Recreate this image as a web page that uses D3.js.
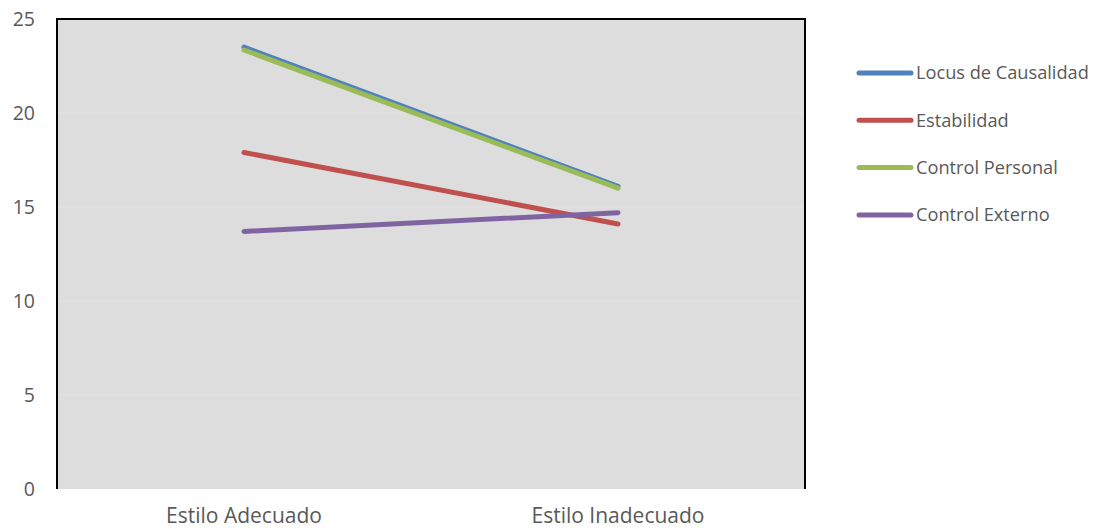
<!DOCTYPE html>
<html>
<head>
<meta charset="utf-8">
<script src="https://cdn.jsdelivr.net/npm/d3@7"></script>
<style>
  html, body { margin: 0; padding: 0; background: #ffffff; }
  svg text { font-family: "Open Sans", "Noto Sans", sans-serif; fill: #595959; }
</style>
</head>
<body>
<svg id="chart" width="1094" height="529"></svg>
<script>
// Categories on the horizontal axis
const categories = ["Estilo Adecuado", "Estilo Inadecuado"];

// Series names and their values per category
const seriesNames = ["Locus de Causalidad", "Estabilidad", "Control Personal", "Control Externo"];
const locusValues = [23.5, 16.1];
const estabilidadValues = [17.9, 14.1];
const controlPersonalValues = [23.35, 16.0];
const controlExternoValues = [13.7, 14.7];

// Y axis ticks
const yTicks = [0, 5, 10, 15, 20, 25];

const seriesColors = ["#4f81bd", "#c0504d", "#9bbb59", "#8064a2"];
const seriesValues = [locusValues, estabilidadValues, controlPersonalValues, controlExternoValues];

const margin = { left: 57, top: 19, right: 805, bottom: 489 };
const svg = d3.select("#chart");

const x = d3.scaleBand().domain(categories).range([margin.left, margin.right]).paddingInner(0).paddingOuter(0);
const y = d3.scaleLinear().domain([0, 25]).range([margin.bottom, margin.top]);

// Plot background
svg.append("rect")
  .attr("x", margin.left).attr("y", margin.top)
  .attr("width", margin.right - margin.left).attr("height", margin.bottom - margin.top)
  .attr("fill", "#dddddd");

// Horizontal gridlines
svg.append("g").selectAll("line")
  .data(yTicks.filter(t => t > 0 && t < 25))
  .join("line")
  .attr("x1", margin.left).attr("x2", margin.right)
  .attr("y1", d => y(d)).attr("y2", d => y(d))
  .attr("stroke", "#e3e3e3").attr("stroke-width", 1.2);

// Frame on top, left and right
svg.append("path")
  .attr("d", `M${margin.left},${margin.bottom} V${margin.top} H${margin.right} V${margin.bottom}`)
  .attr("fill", "none").attr("stroke", "#000").attr("stroke-width", 2);

// Y axis labels
const yAxis = d3.axisLeft(y).tickValues(yTicks).tickSize(0).tickPadding(22);
const yg = svg.append("g").attr("transform", `translate(${margin.left},0)`).call(yAxis);
yg.select(".domain").remove();
yg.selectAll("text").style("font-size", "19.5px").attr("fill", "#595959");

// X axis labels
const xAxis = d3.axisBottom(x).tickSize(0).tickPadding(19);
const xg = svg.append("g").attr("transform", `translate(0,${margin.bottom})`).call(xAxis);
xg.select(".domain").remove();
xg.selectAll("text").style("font-size", "21px").attr("fill", "#595959");

// Series lines
const line = d3.line()
  .x((d, i) => x(categories[i]) + x.bandwidth() / 2)
  .y(d => y(d));

svg.append("g").selectAll("path")
  .data(seriesValues)
  .join("path")
  .attr("d", d => line(d))
  .attr("fill", "none")
  .attr("stroke", (d, i) => seriesColors[i])
  .attr("stroke-width", 5)
  .attr("stroke-linecap", "round");

// Legend
const legend = svg.append("g").selectAll("g")
  .data(seriesNames)
  .join("g")
  .attr("transform", (d, i) => `translate(859,${73 + i * 47.3})`);

legend.append("line")
  .attr("x1", 0).attr("x2", 52).attr("y1", 0).attr("y2", 0)
  .attr("stroke", (d, i) => seriesColors[i])
  .attr("stroke-width", 5)
  .attr("stroke-linecap", "round");

legend.append("text")
  .attr("x", 57).attr("y", 0).attr("dy", "0.35em")
  .style("font-size", "18.2px")
  .attr("fill", "#404040")
  .text(d => d);
</script>
</body>
</html>
